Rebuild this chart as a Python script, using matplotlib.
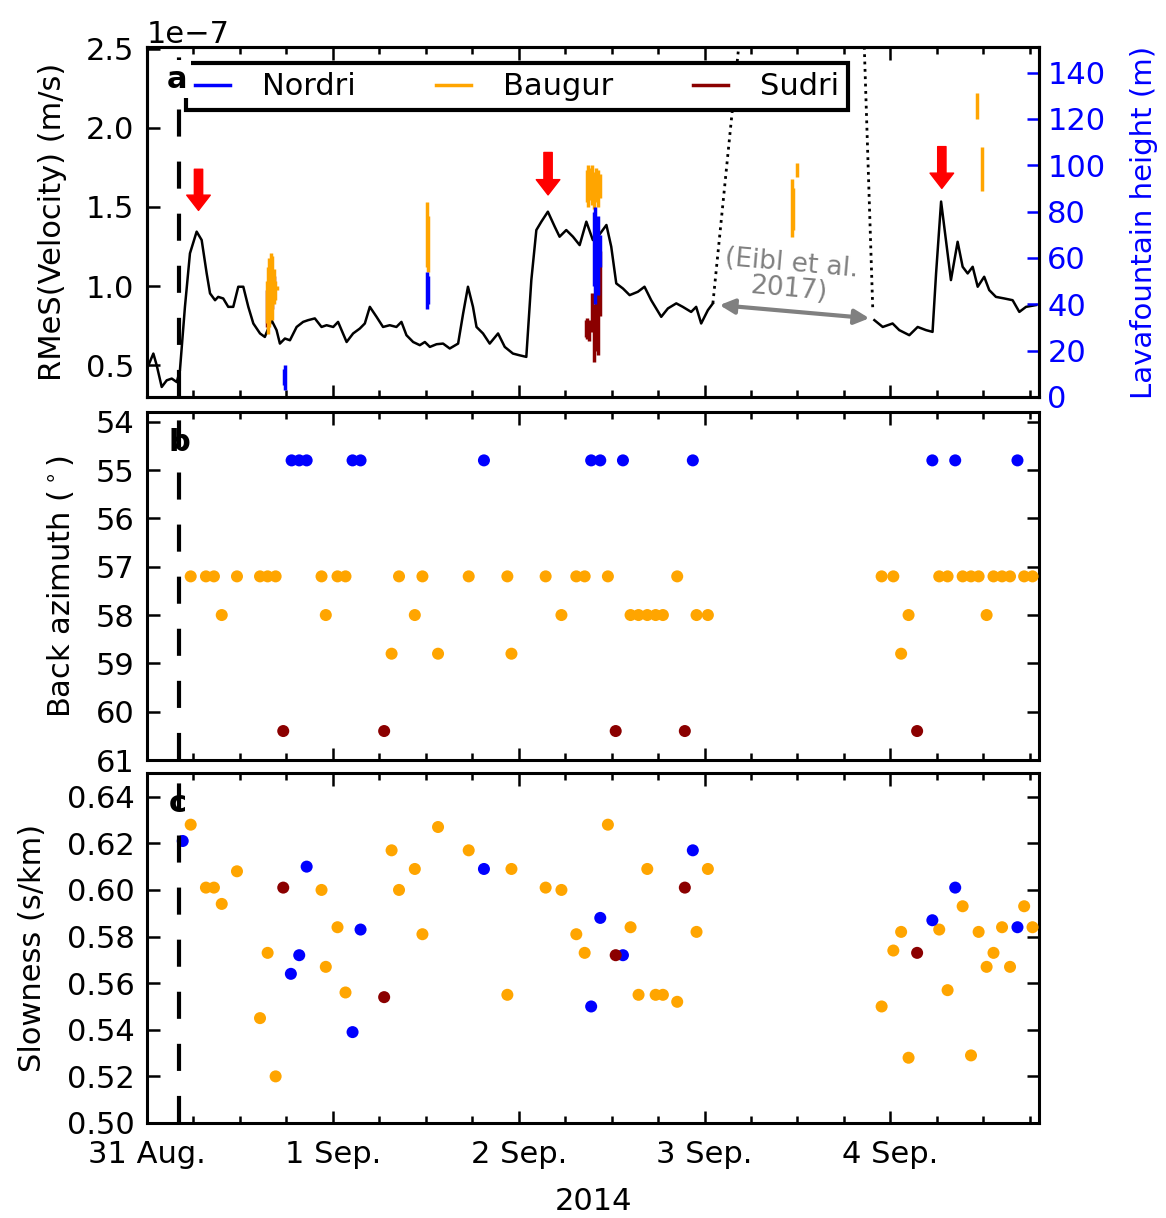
import numpy as np
import matplotlib
matplotlib.use('Agg')
import matplotlib.pyplot as plt
from matplotlib.ticker import MultipleLocator

plt.rcParams['font.family'] = 'DejaVu Sans'
plt.rcParams['font.size'] = 22

# time axis: days after 31 Aug 2014 00:00
day_ticks = [0, 1, 2, 3, 4]
day_labels = ['31 Aug.', '1 Sep.', '2 Sep.', '3 Sep.', '4 Sep.']
onset = 0.17

# panel a: RMeS velocity (units of 1e-7 m/s)
rms_t = [0.0, 0.034, 0.052, 0.079, 0.106, 0.133, 0.160, 0.177, 0.204, 0.231, 0.267, 0.294,
         0.321, 0.339, 0.366, 0.383, 0.410, 0.437, 0.464, 0.491, 0.518, 0.545, 0.572, 0.608,
         0.634, 0.670, 0.697, 0.715, 0.742, 0.769, 0.805, 0.840, 0.867, 0.903, 0.939, 0.966,
         1.002, 1.028, 1.074, 1.109, 1.145, 1.172, 1.199, 1.235, 1.270, 1.306, 1.342, 1.369,
         1.396, 1.432, 1.468, 1.495, 1.522, 1.558, 1.593, 1.629, 1.674, 1.701, 1.727, 1.754,
         1.773, 1.808, 1.844, 1.889, 1.925, 1.969, 2.005, 2.041, 2.068, 2.095, 2.122, 2.157,
         2.194, 2.220, 2.256, 2.292, 2.328, 2.364, 2.399, 2.426, 2.472, 2.498, 2.525, 2.561,
         2.597, 2.641, 2.677, 2.713, 2.767, 2.803, 2.848, 2.883, 2.928, 2.955, 2.982, 3.018,
         3.045, 3.5,
         3.914, 3.959, 4.012, 4.048, 4.102, 4.147, 4.192, 4.227, 4.246, 4.273, 4.299, 4.326,
         4.362, 4.389, 4.416, 4.443, 4.470, 4.505, 4.532, 4.568, 4.613, 4.658, 4.694, 4.730,
         4.783]
rms_v = [0.479, 0.574, 0.500, 0.363, 0.405, 0.416, 0.394, 0.468, 0.869, 1.207, 1.344, 1.291,
         1.080, 0.954, 0.911, 0.932, 0.922, 0.869, 0.869, 0.996, 0.996, 0.869, 0.764, 0.701,
         0.679, 0.785, 0.722, 0.637, 0.669, 0.658, 0.742, 0.774, 0.785, 0.796, 0.742, 0.753,
         0.742, 0.774, 0.647, 0.701, 0.732, 0.764, 0.869, 0.806, 0.742, 0.753, 0.742, 0.774,
         0.690, 0.647, 0.627, 0.647, 0.616, 0.633, 0.637, 0.606, 0.637, 0.827, 0.996, 0.869,
         0.742, 0.701, 0.637, 0.701, 0.616, 0.574, 0.563, 0.553, 1.038, 1.354, 1.407, 1.470,
         1.375, 1.312, 1.354, 1.312, 1.259, 1.407, 1.291, 1.312, 1.386, 1.249, 1.017, 0.985,
         0.943, 0.964, 0.996, 0.911, 0.806, 0.859, 0.891, 0.869, 0.837, 0.869, 0.764, 0.848,
         0.891, np.nan,
         0.785, 0.742, 0.764, 0.722, 0.690, 0.742, 0.722, 0.711, 1.080, 1.534, 1.291, 1.038,
         1.280, 1.122, 1.080, 1.122, 0.996, 1.059, 0.975, 0.932, 0.922, 0.911, 0.837, 0.869,
         0.880]

# data gap (Eibl et al. 2017): dotted edges, bottom and top ends
gap_left_t = [3.045, 3.183]
gap_left_v = [0.891, 2.5]
gap_right_t = [3.905, 3.860]
gap_right_v = [0.867, 2.5]
gap_arrow_t = [3.081, 3.887]
gap_arrow_v = [0.880, 0.797]

# red arrows (start, tip)
arrow_t = [0.277, 2.158, 4.277]
arrow_top = [1.738, 1.844, 1.881]
arrow_tip = [1.478, 1.576, 1.617]

# lava fountain heights (m): vertical segments
nordri_t = [0.735, 0.740, 1.509, 1.512, 2.405, 2.412, 2.420, 2.428, 2.436]
nordri_lo = [5, 3, 38, 40, 48, 40, 52, 44, 56]
nordri_hi = [12, 14, 54, 52, 80, 82, 76, 78, 70]
baugur_t = [0.643, 0.650, 0.658, 0.666, 0.674, 0.682, 0.690, 0.697, 1.507, 1.512,
            2.365, 2.375, 2.385, 2.395, 2.405, 2.415, 2.425, 2.440,
            3.473, 3.478, 3.500, 4.464, 4.493]
baugur_lo = [32, 27, 30, 35, 33, 40, 42, 46, 56, 54,
             84, 82, 85, 83, 81, 84, 82, 86,
             69, 72, 95, 120, 89]
baugur_hi = [50, 56, 60, 62, 61, 55, 50, 48, 84, 78,
             98, 100, 99, 100, 97, 99, 98, 96,
             94, 90, 101, 131, 108]
sudri_t = [0.645, 0.655, 0.665, 0.675, 0.685,
           2.360, 2.370, 2.380, 2.392, 2.404, 2.416, 2.428, 2.440]
sudri_lo = [30, 34, 36, 38, 44, 26, 25, 24, 28, 15, 20, 18, 35]
sudri_hi = [46, 52, 57, 50, 52, 33, 34, 33, 45, 40, 62, 55, 63]

# panel b/c: array events
b_t = [0.235, 0.317, 0.360, 0.402, 0.484, 0.608, 0.649, 0.692, 0.939, 0.962, 1.025, 1.068,
       1.316, 1.356, 1.441, 1.482, 1.566, 1.731, 1.939, 1.961, 2.145, 2.230, 2.310, 2.355,
       2.480, 2.602, 2.645, 2.692, 2.737, 2.776, 2.853, 2.957, 3.018, 3.953, 4.016, 4.058,
       4.098, 4.263, 4.308, 4.389, 4.434, 4.475, 4.518, 4.555, 4.601, 4.644, 4.720, 4.765]
b_baz = [57.2, 57.2, 57.2, 58.0, 57.2, 57.2, 57.2, 57.2, 57.2, 58.0, 57.2, 57.2,
         58.8, 57.2, 58.0, 57.2, 58.8, 57.2, 57.2, 58.8, 57.2, 58.0, 57.2, 57.2,
         57.2, 58.0, 58.0, 58.0, 58.0, 58.0, 57.2, 58.0, 58.0, 57.2, 57.2, 58.8,
         58.0, 57.2, 57.2, 57.2, 57.2, 57.2, 58.0, 57.2, 57.2, 57.2, 57.2, 57.2]
b_slow = [0.628, 0.601, 0.601, 0.594, 0.608, 0.545, 0.573, 0.520, 0.600, 0.567, 0.584, 0.556,
          0.617, 0.600, 0.609, 0.581, 0.627, 0.617, 0.555, 0.609, 0.601, 0.600, 0.581, 0.573,
          0.628, 0.584, 0.555, 0.609, 0.555, 0.555, 0.552, 0.582, 0.609, 0.550, 0.574, 0.582,
          0.528, 0.583, 0.557, 0.593, 0.529, 0.582, 0.567, 0.573, 0.584, 0.567, 0.593, 0.584]

n_t = [0.778, 0.819, 0.859, 1.106, 1.149, 1.813, 2.390, 2.439, 2.561, 2.937, 4.226, 4.349, 4.684]
n_baz = [54.8] * 13
n_slow_t = [0.192, 0.774, 0.819, 0.859, 1.106, 1.149, 1.813, 2.390, 2.439, 2.561, 2.937,
            4.226, 4.349, 4.684]
n_slow = [0.621, 0.564, 0.572, 0.610, 0.539, 0.583, 0.609, 0.550, 0.588, 0.572, 0.617,
          0.587, 0.601, 0.584]

s_t = [0.733, 1.276, 2.522, 2.894, 4.144]
s_baz = [60.4] * 5
s_slow = [0.601, 0.554, 0.572, 0.601, 0.573]

c_n = 'blue'
c_b = 'orange'
c_s = '#8b0000'

fig = plt.figure(figsize=(11.66, 12.18), dpi=100)
L, W = 0.1261, 0.765
ax_a = fig.add_axes([L, 0.6741, W, 0.2873])
ax_b = fig.add_axes([L, 0.3760, W, 0.2857], sharex=ax_a)
ax_c = fig.add_axes([L, 0.0780, W, 0.2874], sharex=ax_a)


def style(ax, right=True):
    for s in ax.spines.values():
        s.set_linewidth(2.2)
    ax.tick_params(which='both', direction='in', top=True, right=right, width=1.8)
    ax.tick_params(which='major', length=9)
    ax.tick_params(which='minor', length=5)
    ax.tick_params(axis='y', which='major', pad=9)
    ax.tick_params(axis='x', which='major', pad=12)


# --- panel a
rms = np.array(rms_v) * 1e-7
ax_a.plot(rms_t, rms, color='k', lw=1.8, zorder=3)
ax_a.plot(gap_left_t, np.array(gap_left_v) * 1e-7, color='k', ls=':', lw=2)
ax_a.plot(gap_right_t, np.array(gap_right_v) * 1e-7, color='k', ls=':', lw=2)
ax_a.annotate('', xy=(gap_arrow_t[0], gap_arrow_v[0] * 1e-7),
              xytext=(gap_arrow_t[1], gap_arrow_v[1] * 1e-7),
              arrowprops=dict(arrowstyle='<|-|>', color='gray', lw=3, mutation_scale=22,
                              shrinkA=0, shrinkB=0))
ax_a.text(3.46, 1.06e-7, '(Eibl et al.\n2017)', color='gray', fontsize=19,
          ha='center', va='center', rotation=-5, linespacing=1.0)
for t, top, tip in zip(arrow_t, arrow_top, arrow_tip):
    ax_a.annotate('', xy=(t, tip * 1e-7), xytext=(t, top * 1e-7),
                  arrowprops=dict(facecolor='red', edgecolor='red', width=6,
                                  headwidth=17, headlength=11, shrink=0))
ax_a.axvline(onset, color='k', lw=3, ls=(0, (6.5, 6)), zorder=4)
ax_a.set_ylim(0.3e-7, 2.51e-7)
ax_a.set_yticks([0.5e-7, 1.0e-7, 1.5e-7, 2.0e-7, 2.5e-7])
ax_a.yaxis.get_offset_text().set_fontsize(22)
ax_a.set_ylabel('RMeS(Velocity) (m/s)', labelpad=14)
style(ax_a, right=False)

ax2 = ax_a.twinx()
ax2.vlines(sudri_t, sudri_lo, sudri_hi, color=c_s, lw=2.5)
ax2.vlines(baugur_t, baugur_lo, baugur_hi, color=c_b, lw=2.5)
ax2.vlines(nordri_t, nordri_lo, nordri_hi, color=c_n, lw=2.5)
ax2.set_ylim(0, 151)
ax2.set_yticks(range(0, 141, 20))
ax2.tick_params(axis='y', colors='blue', direction='in', length=9, width=1.8, pad=6)
ax2.spines['right'].set_color('k')
ax2.set_ylabel('Lavafountain height (m)', color='blue', fontsize=21, labelpad=18)
for s in ax2.spines.values():
    s.set_linewidth(2.2)
h = [plt.Line2D([], [], color=c, lw=2.5) for c in (c_n, c_b, c_s)]
leg = ax2.legend(h, ['Nordri', 'Baugur', 'Sudri'], ncol=3, loc='upper left',
                 bbox_to_anchor=(0.0437, 0.954), fontsize=22, fancybox=False,
                 edgecolor='k', framealpha=1, handlelength=1.15, handletextpad=1.05,
                 columnspacing=2.6, borderpad=0.3, borderaxespad=0)
leg.get_frame().set_linewidth(3)
ax2.text(0.022, 0.95, 'a', transform=ax2.transAxes, fontsize=22, fontweight='bold',
         va='top', ha='left', zorder=10,
         bbox=dict(facecolor='white', edgecolor='none', pad=3))

# --- panel b
ax_b.scatter(b_t, b_baz, s=75, color=c_b, edgecolors='none', zorder=3)
ax_b.scatter(n_t, n_baz, s=75, color=c_n, edgecolors='none', zorder=3)
ax_b.scatter(s_t, s_baz, s=75, color=c_s, edgecolors='none', zorder=3)
ax_b.axvline(onset, color='k', lw=3, ls=(0, (6.5, 6)), zorder=4)
ax_b.set_ylim(61, 53.8)
ax_b.set_yticks(range(54, 62))
ax_b.set_ylabel(r'Back azimuth ($^\circ$)', labelpad=14)
ax_b.text(0.024, 0.955, 'b', transform=ax_b.transAxes, fontsize=22, fontweight='bold',
          va='top', ha='left')
style(ax_b)

# --- panel c
ax_c.scatter(b_t, b_slow, s=75, color=c_b, edgecolors='none', zorder=3)
ax_c.scatter(n_slow_t, n_slow, s=75, color=c_n, edgecolors='none', zorder=3)
ax_c.scatter(s_t, s_slow, s=75, color=c_s, edgecolors='none', zorder=3)
ax_c.axvline(onset, color='k', lw=3, ls=(0, (6.5, 6)), zorder=4)
ax_c.set_ylim(0.50, 0.6502)
ax_c.set_yticks(np.arange(0.50, 0.641, 0.02))
ax_c.yaxis.set_major_formatter(plt.FormatStrFormatter('%.2f'))
ax_c.set_ylabel('Slowness (s/km)', labelpad=14)
ax_c.set_xlabel('2014', labelpad=13)
ax_c.text(0.024, 0.955, 'c', transform=ax_c.transAxes, fontsize=22, fontweight='bold',
          va='top', ha='left')
style(ax_c)

ax_c.set_xlim(0, 4.8)
ax_c.set_xticks(day_ticks, day_labels)
ax_c.xaxis.set_minor_locator(MultipleLocator(0.25))
plt.setp(ax_a.get_xticklabels(), visible=False)
plt.setp(ax_b.get_xticklabels(), visible=False)

fig.savefig('out.png', dpi=100)
